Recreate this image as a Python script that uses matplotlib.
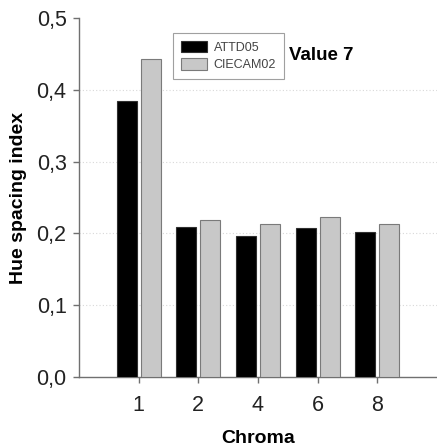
import matplotlib
matplotlib.use("Agg")
import matplotlib.pyplot as plt
import numpy as np
from matplotlib.ticker import FuncFormatter

plt.rcParams['font.family'] = ['Liberation Sans', 'DejaVu Sans']

chroma = ["1", "2", "4", "6", "8"]
attd05 = [0.384, 0.209, 0.197, 0.207, 0.202]
ciecam02 = [0.443, 0.218, 0.213, 0.223, 0.213]
yticks = [0.0, 0.1, 0.2, 0.3, 0.4, 0.5]

fig = plt.figure(figsize=(4.37, 4.46), dpi=100)
ax = fig.add_axes([79/437, 1 - 377/446, (437-79)/437, (377-18)/446])

x = np.arange(len(chroma))
w = 0.333
ax.bar(x - 0.2, attd05, w, color='black', edgecolor='#303030', linewidth=0.8, label='ATTD05', zorder=3)
ax.bar(x + 0.2, ciecam02, w, color='#c8c8c8', edgecolor='#7a7a7a', linewidth=0.8, label='CIECAM02', zorder=3)

ax.set_xlim(-1, 5)
ax.set_ylim(0, 0.5)
ax.set_xticks(x)
ax.set_xticklabels(chroma)
ax.set_yticks(yticks)
ax.yaxis.set_major_formatter(FuncFormatter(lambda v, p: f"{v:.1f}".replace('.', ',')))
ax.tick_params(axis='both', labelsize=15.5, color='#707070', direction='out', length=4, width=1)
ax.tick_params(axis='x', pad=9)
ax.tick_params(axis='y', pad=5)
for t in ax.get_xticklabels() + ax.get_yticklabels():
    t.set_color('#222222')

for s in ['top', 'right']:
    ax.spines[s].set_visible(False)
for s in ['left', 'bottom']:
    ax.spines[s].set_color('#707070')
    ax.spines[s].set_linewidth(1)

for v in yticks[1:-1]:
    ax.axhline(v, color='#d8d8d8', linestyle=(0, (1, 2)), linewidth=0.8, zorder=1)

ax.set_ylabel('Hue spacing index', fontsize=14, fontweight='bold', labelpad=7)
ax.set_xlabel('Chroma', fontsize=14, fontweight='bold', labelpad=10)

leg = ax.legend(loc='upper left', bbox_to_anchor=((173-79)/358, (377-33)/359),
                fontsize=9, frameon=True, fancybox=False, edgecolor='#888888',
                handlelength=2.1, handleheight=1.0, borderpad=0.65, labelspacing=0.35,
                handletextpad=0.5, borderaxespad=0)
leg.get_frame().set_linewidth(0.8)
for t in leg.get_texts():
    t.set_color('#444444')

ax.text((289-79)/358, (377-56)/359, 'Value 7', transform=ax.transAxes,
        fontsize=13.5, fontweight='bold', va='center', ha='left')

fig.savefig('out.png', dpi=100)
